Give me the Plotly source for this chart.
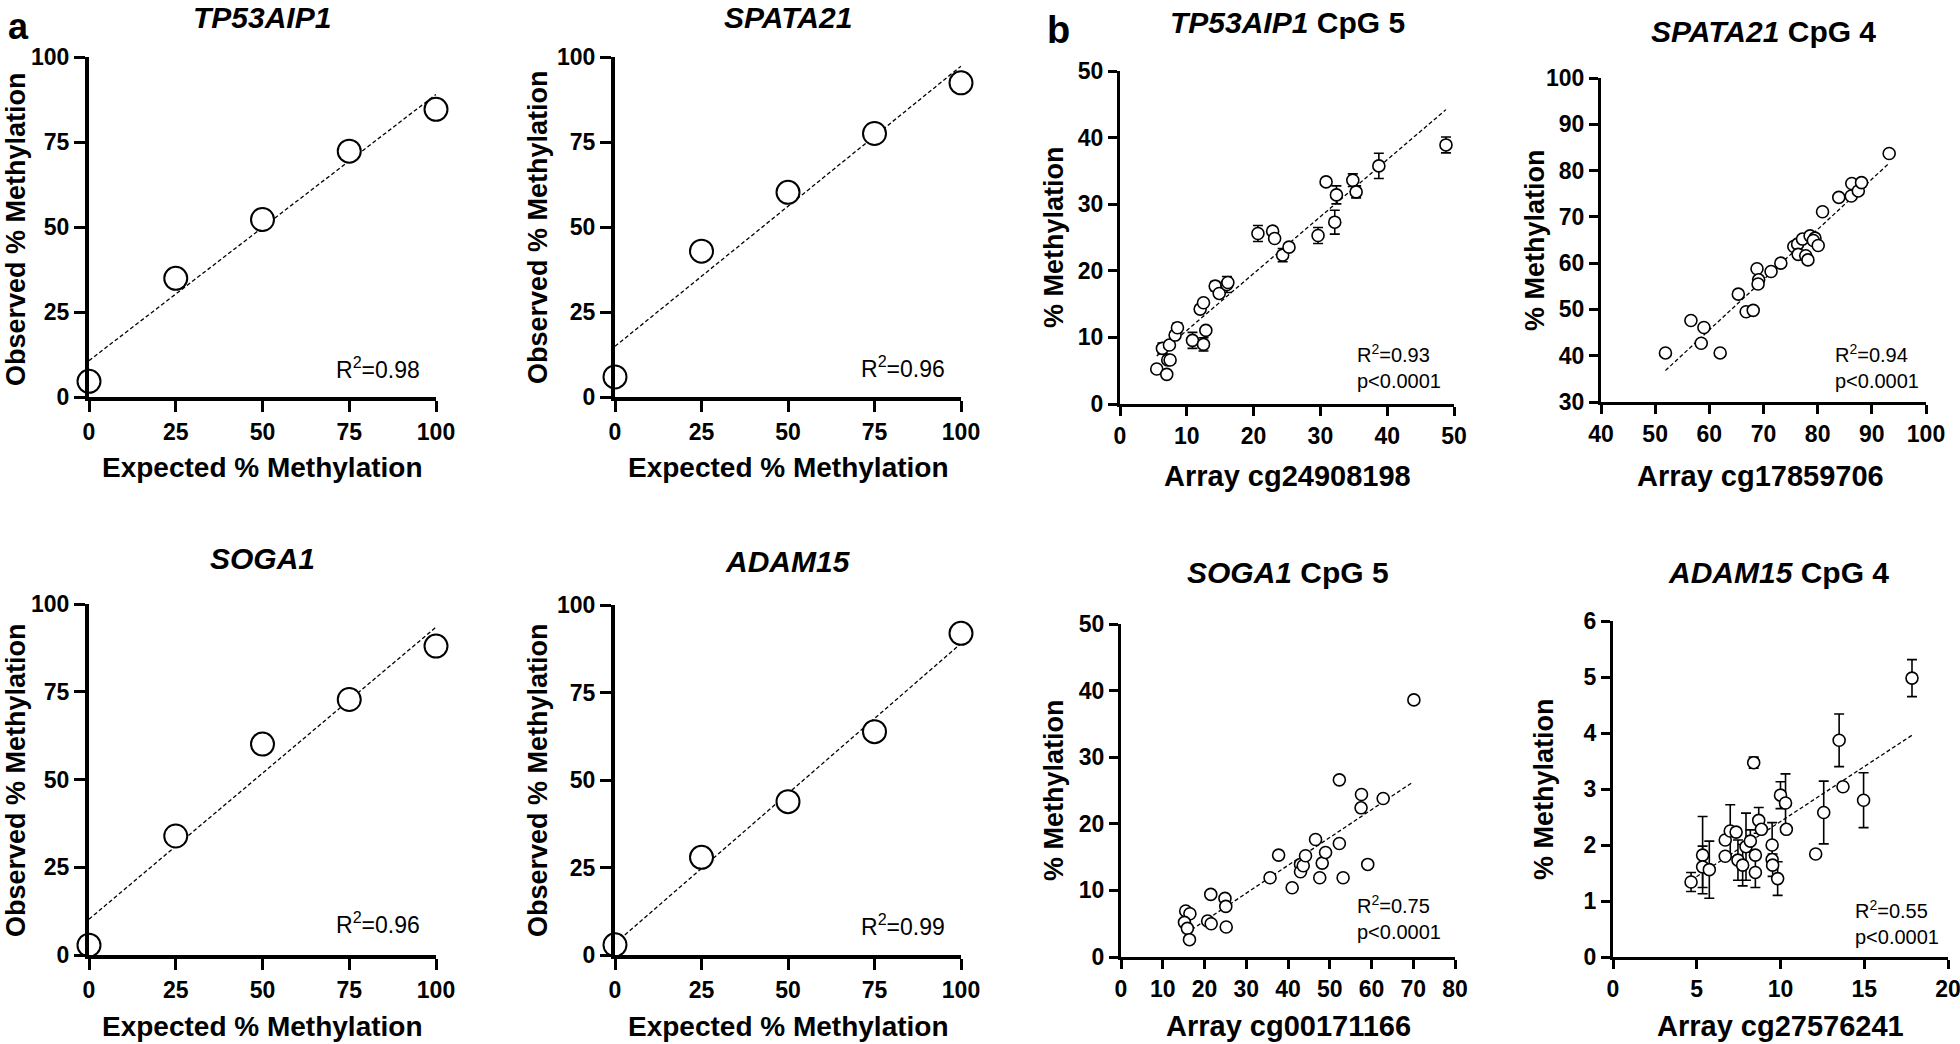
import plotly.graph_objects as go

W, H = 1960, 1044
FONT = "Liberation Sans, Arial, Helvetica, sans-serif"

# ---------------- data: panel a (expected vs observed) ----------------
expected = [0, 25, 50, 75, 100]
obs_tp53aip1 = [4.6, 34.9, 52.2, 72.3, 84.6]
obs_spata21 = [5.9, 42.9, 60.2, 77.5, 92.4]
obs_soga1 = [2.8, 33.9, 60.1, 72.8, 88.0]
obs_adam15 = [2.9, 27.9, 43.8, 63.8, 91.9]
fit_a_x = [0, 100]
fit_tp53aip1 = [10.7, 89.0]
fit_spata21 = [14.9, 97.3]
fit_soga1 = [10.2, 93.4]
fit_adam15 = [3.3, 89.0]
a_ticks = [0, 25, 50, 75, 100]

# ---------------- data: panel b (array vs pyrosequencing) ----------------
tp53_array = [5.5, 7.0, 6.35, 7.4, 7.15, 7.5, 8.25, 8.6, 10.85, 12.0, 12.5, 12.5, 12.85,
              14.25, 14.85, 16.0, 16.15, 20.65, 22.85, 23.15, 24.35, 25.3, 29.65, 30.85,
              32.15, 32.4, 34.85, 35.35, 38.75, 48.8]
tp53_meth = [5.25, 4.45, 8.35, 8.85, 6.6, 6.6, 10.35, 11.45, 9.55, 14.25, 15.2, 8.95, 11.05,
             17.7, 16.6, 17.95, 18.25, 25.6, 25.95, 24.85, 22.35, 23.55, 25.3, 33.35,
             27.3, 31.4, 33.6, 31.85, 35.75, 38.9]
tp53_err = [0, 0, 0.8, 0, 0, 0, 0, 0.7, 1.2, 0, 0, 1.0, 0,
            0.7, 0, 1.2, 0, 1.2, 0, 0, 1.0, 0, 1.2, 0,
            1.8, 1.35, 0.95, 0.9, 1.9, 1.2]
tp53_fit_x = [5.5, 48.8]
tp53_fit_y = [7.2, 44.2]

spata_array = [51.9, 56.6, 58.5, 59.0, 62.0, 65.35, 66.8, 68.1, 68.8, 69.1, 69.0, 71.4, 73.2,
               75.6, 76.3, 77.2, 76.4, 77.8, 78.2, 78.6, 79.5, 79.2, 80.1, 80.9, 83.9, 86.2,
               86.3, 87.5, 88.1, 93.2]
spata_meth = [40.6, 47.6, 42.7, 46.1, 40.6, 53.3, 49.5, 49.8, 58.8, 56.4, 55.5, 58.2, 60.0,
              63.6, 64.1, 65.2, 61.9, 61.6, 60.7, 65.9, 65.4, 64.9, 63.8, 71.1, 74.2, 74.5,
              77.2, 75.6, 77.4, 83.7]
spata_fit_x = [51.9, 93.1]
spata_fit_y = [36.8, 81.5]

soga_array = [15.5, 16.5, 15.2, 15.9, 16.4, 20.75, 21.5, 21.6, 24.9, 25.1, 25.2, 35.7, 37.75,
              41.0, 43.0, 43.0, 43.65, 44.2, 46.6, 47.6, 48.2, 49.0, 52.3, 52.3, 53.2, 57.5,
              57.6, 59.1, 62.8, 70.15]
soga_meth = [6.9, 6.5, 5.2, 4.3, 2.6, 5.4, 9.4, 5.0, 8.8, 7.6, 4.5, 11.9, 15.3,
             10.4, 13.9, 12.8, 13.7, 15.2, 17.65, 11.9, 14.1, 15.7, 17.05, 26.6, 11.9, 22.4,
             24.4, 13.9, 23.8, 38.6]
soga_fit_x = [16.9, 70.0]
soga_fit_y = [4.1, 26.3]

adam_array = [4.66, 5.35, 5.35, 5.75, 6.7, 6.7, 7.0, 7.35, 7.46, 7.74, 7.94, 8.2, 8.4, 8.5,
              8.5, 8.7, 8.86, 9.5, 9.5, 9.53, 9.83, 10.0, 10.3, 10.35, 12.1, 12.58, 13.5,
              13.73, 14.96, 17.85]
adam_meth = [1.34, 1.82, 1.61, 1.56, 2.09, 1.80, 2.25, 2.23, 1.73, 1.64, 1.97, 2.07, 3.47, 1.82,
             1.51, 2.44, 2.28, 2.0, 1.74, 1.64, 1.40, 2.89, 2.75, 2.28, 1.84, 2.58, 3.87,
             3.04, 2.80, 4.98]
adam_err = [0.17, 0.69, 0.37, 0.51, 0, 0, 0.47, 0, 0.36, 0.37, 0.6, 0.2, 0.1, 0,
            0.27, 0.23, 0, 0.4, 0, 0.2, 0.3, 0.24, 0.52, 0, 0, 0.56, 0.47,
            0, 0.49, 0.33]
adam_fit_x = [4.66, 17.85]
adam_fit_y = [1.37, 3.96]

# ---------------- layout helpers (pixel -> paper) ----------------
def px(x):
    return x / W

def py(y):
    return 1 - y / H

fig = go.Figure()

# (axis index, x pixel range, y pixel range (top,bottom), xrange, yrange, xticks, yticks, kind)
panels = [
    (1, (89, 436), (57, 397), [0, 100], [0, 100], a_ticks, a_ticks, "a"),
    (2, (615, 961), (57, 397), [0, 100], [0, 100], a_ticks, a_ticks, "a"),
    (3, (1120, 1454), (71, 404), [0, 50], [0, 50], list(range(0, 51, 10)), list(range(0, 51, 10)), "b"),
    (4, (1601, 1926), (78, 402), [40, 100], [30, 100], list(range(40, 101, 10)), list(range(30, 101, 10)), "b"),
    (5, (89, 436), (604, 955), [0, 100], [0, 100], a_ticks, a_ticks, "a"),
    (6, (615, 961), (605, 955), [0, 100], [0, 100], a_ticks, a_ticks, "a"),
    (7, (1121, 1455), (624, 957), [0, 80], [0, 50], list(range(0, 81, 10)), list(range(0, 51, 10)), "b"),
    (8, (1613, 1948), (621, 957), [0, 20], [0, 6], [0, 5, 10, 15, 20], list(range(0, 7)), "b"),
]

layout_axes = {}
for idx, (x0, x1), (ytop, ybot), xr, yr, xt, yt, kind in panels:
    lw = 4 if kind == "a" else 3.2
    tl = 11 if kind == "a" else 9
    tw = 3 if kind == "a" else 2.5
    tfs = 23
    common = dict(showline=True, linecolor="black", linewidth=lw, ticks="outside",
                  ticklen=tl, tickwidth=tw, tickcolor="black", showgrid=False,
                  zeroline=False, fixedrange=True, automargin=False,
                  ticklabeloverflow="allow",
                  tickfont=dict(family=FONT, size=tfs, color="black", weight="bold"))
    sfx = "" if idx == 1 else str(idx)
    layout_axes["xaxis" + sfx] = dict(common, domain=[px(x0), px(x1)], range=xr,
                                      tickvals=xt, anchor="y" + sfx)
    layout_axes["yaxis" + sfx] = dict(common, domain=[py(ybot), py(ytop)], range=yr,
                                      tickvals=yt, anchor="x" + sfx)

fig.update_layout(**layout_axes)


def add_panel(idx, xs, ys, fx, fy, size, lwidth, err=None):
    sfx = "" if idx == 1 else str(idx)
    fig.add_trace(go.Scatter(x=fx, y=fy, mode="lines", xaxis="x" + sfx, yaxis="y" + sfx,
                             line=dict(color="black", width=1.3, dash="4px,2.5px"),
                             showlegend=False, hoverinfo="skip", cliponaxis=False))
    kw = {}
    if err is not None:
        kw["error_y"] = dict(type="data", array=err, symmetric=True, color="black",
                             thickness=1.6, width=5)
    fig.add_trace(go.Scatter(x=xs, y=ys, mode="markers", xaxis="x" + sfx, yaxis="y" + sfx,
                             marker=dict(symbol="circle", size=size, color="white",
                                         line=dict(color="black", width=lwidth)),
                             showlegend=False, cliponaxis=False, **kw))


add_panel(1, expected, obs_tp53aip1, fit_a_x, fit_tp53aip1, 23, 2)
add_panel(2, expected, obs_spata21, fit_a_x, fit_spata21, 23, 2)
add_panel(5, expected, obs_soga1, fit_a_x, fit_soga1, 23, 2)
add_panel(6, expected, obs_adam15, fit_a_x, fit_adam15, 23, 2)
add_panel(3, tp53_array, tp53_meth, tp53_fit_x, tp53_fit_y, 12, 1.6, tp53_err)
add_panel(4, spata_array, spata_meth, spata_fit_x, spata_fit_y, 12, 1.6)
add_panel(7, soga_array, soga_meth, soga_fit_x, soga_fit_y, 12, 1.6)
add_panel(8, adam_array, adam_meth, adam_fit_x, adam_fit_y, 12, 1.6, adam_err)

ann = []


def text(x, y, s, size, bold=True, angle=0, xanchor="center", yanchor="middle", align="center"):
    ann.append(dict(x=px(x), y=py(y), xref="paper", yref="paper", text=s, showarrow=False,
                    textangle=angle, xanchor=xanchor, yanchor=yanchor, align=align,
                    font=dict(family=FONT, size=size, color="black",
                              weight="bold" if bold else "normal")))


# panel letters
text(18, 27, "a", 36)
text(1058, 30, "b", 38)

# panel a titles
text(262, 17, "<i>TP53AIP1</i>", 30)
text(788, 17, "<i>SPATA21</i>", 30)
text(262, 558, "<i>SOGA1</i>", 30)
text(788, 561, "<i>ADAM15</i>", 30)

# panel b titles
text(1287, 23, "<i>TP53AIP1</i> CpG 5", 30)
text(1763, 31, "<i>SPATA21</i> CpG 4", 30)
text(1288, 572, "<i>SOGA1</i> CpG 5", 30)
text(1778, 572, "<i>ADAM15</i> CpG 4", 30)

# axis titles panel a
for cx, cy_x, yx, cy_y in [(262, 467, 16, 229), (788, 467, 538, 227),
                           (262, 1026, 16, 780), (788, 1026, 538, 780)]:
    text(cx, cy_x, "Expected % Methylation", 28)
    text(yx, cy_y, "Observed % Methylation", 27, angle=-90)

# axis titles panel b
text(1287, 476, "Array cg24908198", 29)
text(1760, 476, "Array cg17859706", 29)
text(1288, 1026, "Array cg00171166", 29)
text(1780, 1026, "Array cg27576241", 29)
for yx, cy in [(1054, 237), (1535, 240), (1054, 790), (1544, 789)]:
    text(yx, cy, "% Methylation", 27, angle=-90)

# statistics
text(422, 368, "R<sup>2</sup>=0.98", 23, bold=False, xanchor="right")
text(947, 367, "R<sup>2</sup>=0.96", 23, bold=False, xanchor="right")
text(422, 923, "R<sup>2</sup>=0.96", 23, bold=False, xanchor="right")
text(947, 925, "R<sup>2</sup>=0.99", 23, bold=False, xanchor="right")
text(1355, 366, "R<sup>2</sup>=0.93<br>p&lt;0.0001", 20, bold=False, xanchor="left", align="left")
text(1833, 366, "R<sup>2</sup>=0.94<br>p&lt;0.0001", 20, bold=False, xanchor="left", align="left")
text(1355, 917, "R<sup>2</sup>=0.75<br>p&lt;0.0001", 20, bold=False, xanchor="left", align="left")
text(1853, 922, "R<sup>2</sup>=0.55<br>p&lt;0.0001", 20, bold=False, xanchor="left", align="left")

fig.update_layout(width=W, height=H, margin=dict(l=0, r=0, t=0, b=0, autoexpand=False),
                  paper_bgcolor="white", plot_bgcolor="white", annotations=ann,
                  font=dict(family=FONT, color="black"))

fig.write_html("out.html", config={"displayModeBar": False},
               post_script="document.body.style.margin='0';document.body.style.padding='0';"
                           "document.body.style.overflow='hidden';")
